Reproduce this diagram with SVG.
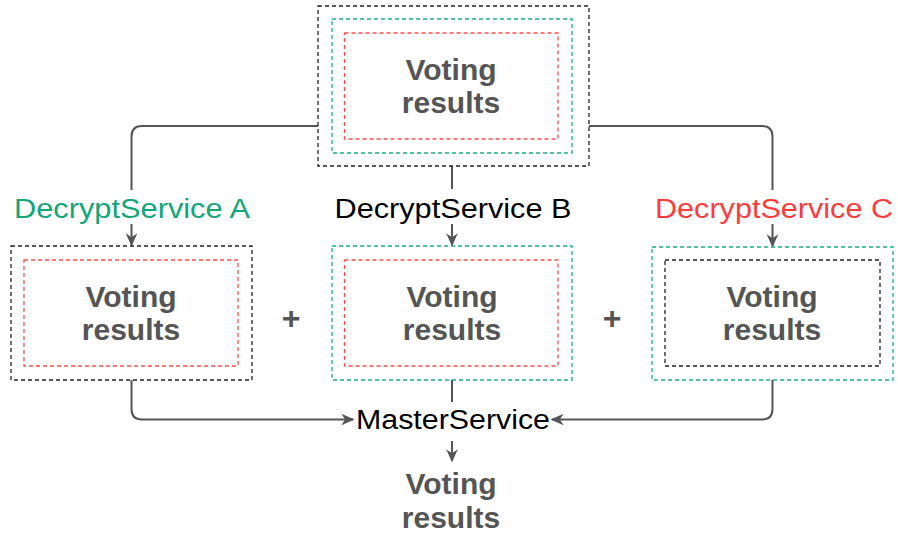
<svg xmlns="http://www.w3.org/2000/svg" width="898" height="533" viewBox="0 0 898 533">
  <defs>
    <marker id="arrow" viewBox="0 0 10 10" refX="9" refY="5" markerWidth="13" markerHeight="13" markerUnits="userSpaceOnUse" orient="auto">
      <path d="M0,0.5 L10,5 L0,9.5 L3,5 Z" fill="#555555"/>
    </marker>
    <style>
      .box { fill: none; stroke-width: 1.3; stroke-dasharray: 4 3; }
      .blk { stroke: #222222; }
      .grn { stroke: #1aaf84; }
      .red { stroke: #ff4d4d; }
      .vote { font-family: "Liberation Sans", Arial, sans-serif; font-weight: bold; font-size: 30px; fill: #555555; text-anchor: middle; }
      .svc { font-family: "Liberation Sans", Arial, sans-serif; font-size: 27px; text-anchor: middle; }
      .plus { font-family: "Liberation Sans", Arial, sans-serif; font-weight: bold; font-size: 32px; fill: #555555; text-anchor: middle; }
      .conn { fill: none; stroke: #555555; stroke-width: 2; }
    </style>
  </defs>
  <rect width="898" height="533" fill="#ffffff"/>

  <!-- connectors -->
  <g id="connectors">
    <path class="conn" d="M318,126 H142 Q131.5,126 131.5,136.5 V190"/>
    <path class="conn" d="M131.5,224 V245" marker-end="url(#arrow)"/>
    <path class="conn" d="M589,126 H762 Q772.5,126 772.5,136.5 V190"/>
    <path class="conn" d="M772.5,224 V246" marker-end="url(#arrow)"/>
    <path class="conn" d="M452,166 V189"/>
    <path class="conn" d="M452,224 V245" marker-end="url(#arrow)"/>
    <path class="conn" d="M131.5,380 V409 Q131.5,419.5 142,419.5 H353" marker-end="url(#arrow)"/>
    <path class="conn" d="M772.5,380 V409 Q772.5,419.5 762,419.5 H552" marker-end="url(#arrow)"/>
    <path class="conn" d="M452,380 V402"/>
    <path class="conn" d="M452,441 V461" marker-end="url(#arrow)"/>
  </g>

  <!-- encrypted results on top -->
  <g id="top-results">
    <rect class="box blk" x="318" y="6" width="271" height="160"/>
    <rect class="box grn" x="332" y="19" width="240" height="134"/>
    <rect class="box red" x="344.5" y="33" width="213.5" height="106"/>
    <text class="vote" x="451" y="80">Voting</text>
    <text class="vote" x="451" y="113">results</text>
  </g>

  <!-- service labels -->
  <g id="label-a"><text class="svc" x="132" y="218" fill="#13a67a" textLength="236" lengthAdjust="spacingAndGlyphs">DecryptService A</text></g>
  <g id="label-b"><text class="svc" x="453" y="218" fill="#000000" textLength="237" lengthAdjust="spacingAndGlyphs">DecryptService B</text></g>
  <g id="label-c"><text class="svc" x="774" y="218" fill="#ff3b3b" textLength="238" lengthAdjust="spacingAndGlyphs">DecryptService C</text></g>

  <!-- partially decrypted results -->
  <g id="results-a">
    <rect class="box blk" x="11" y="246" width="241" height="134"/>
    <rect class="box red" x="24" y="260" width="214" height="106"/>
    <text class="vote" x="131" y="307">Voting</text>
    <text class="vote" x="131" y="340">results</text>
  </g>
  <g id="results-b">
    <rect class="box grn" x="332" y="246" width="240" height="134"/>
    <rect class="box red" x="344.5" y="260" width="213.5" height="106"/>
    <text class="vote" x="452" y="307">Voting</text>
    <text class="vote" x="452" y="340">results</text>
  </g>
  <g id="results-c">
    <rect class="box grn" x="652" y="247" width="241" height="133"/>
    <rect class="box blk" x="665" y="260" width="215" height="106"/>
    <text class="vote" x="772" y="307">Voting</text>
    <text class="vote" x="772" y="340">results</text>
  </g>

  <g id="plus-1"><text class="plus" x="291" y="329">+</text></g>
  <g id="plus-2"><text class="plus" x="612" y="329">+</text></g>

  <!-- master service and final result -->
  <g id="master">
    <text class="svc" x="453" y="429" fill="#000000" textLength="194" lengthAdjust="spacingAndGlyphs">MasterService</text>
  </g>
  <g id="final-results">
    <text class="vote" x="451" y="494">Voting</text>
    <text class="vote" x="451" y="528">results</text>
  </g>
</svg>
